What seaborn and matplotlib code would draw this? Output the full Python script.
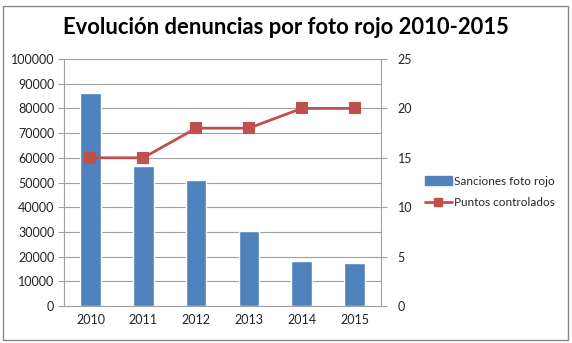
import matplotlib
matplotlib.use("Agg")
import matplotlib.pyplot as plt
import seaborn as sns
import pandas as pd
from matplotlib.patches import Rectangle
from matplotlib.lines import Line2D
from matplotlib.patches import Patch

years = ["2010", "2011", "2012", "2013", "2014", "2015"]
sanciones = [86100, 56800, 51000, 30500, 18300, 17400]
puntos = [15, 15, 18, 18, 20, 20]
left_ticks = [0, 10000, 20000, 30000, 40000, 50000, 60000, 70000, 80000, 90000, 100000]
right_ticks = [0, 5, 10, 15, 20, 25]

sns.set_theme(style="white")
plt.rcParams['font.family'] = ['Lato', 'DejaVu Sans']

df = pd.DataFrame({"year": years, "sanciones": sanciones, "puntos": puntos})

fig = plt.figure(figsize=(5.72, 3.43), dpi=100)
ax = fig.add_axes([64/572, 1-306/343, (381-64)/572, (306-59)/343])

blue = "#4F81BD"
red = "#C0504D"
grid = "#A0A0A0"

sns.barplot(data=df, x="year", y="sanciones", color=blue, saturation=1,
            width=0.39, ax=ax, zorder=2)
ax.set_ylim(0, 100000)
ax.set_yticks(left_ticks)
ax.set_yticklabels([str(t) for t in left_ticks], fontsize=9, color="#222222")
ax.set_xlim(-0.5, 5.5)
ax.set_xlabel("")
ax.set_ylabel("")
ax.tick_params(axis="x", labelsize=9, colors="#222222", length=0, pad=6)
ax.tick_params(axis="y", length=4, width=0.8, color=grid, pad=3)
ax.yaxis.grid(True, color=grid, linewidth=0.8)
ax.set_axisbelow(True)
for s in ["top", "right"]:
    ax.spines[s].set_visible(False)
for s in ["left", "bottom"]:
    ax.spines[s].set_color(grid)
    ax.spines[s].set_linewidth(0.8)

ax2 = ax.twinx()
sns.pointplot(data=df, x="year", y="puntos", color=red, markers="s",
              markersize=7, linewidth=2, ax=ax2)
ax2.set_ylim(0, 25)
ax2.set_xlim(-0.5, 5.5)
ax2.set_yticks(right_ticks)
ax2.set_yticklabels([str(t) for t in right_ticks], fontsize=9, color="#222222")
ax2.set_ylabel("")
ax2.set_xlabel("")
ax2.tick_params(axis="y", length=4, width=0.8, color=grid, pad=8, right=True)
for s in ["top", "left", "bottom"]:
    ax2.spines[s].set_visible(False)
ax2.spines["right"].set_color(grid)
ax2.spines["right"].set_linewidth(0.8)
ax2.grid(False)

fig.text(286/572, 1-27/343, "Evolución denuncias por foto rojo 2010-2015",
         ha="center", va="center", fontsize=15.8, fontweight="bold", color="black")

handles = [Patch(facecolor=blue, edgecolor=blue),
           Line2D([0], [0], color=red, lw=2, marker="s", markersize=6)]
fig.legend(handles, ["Sanciones foto rojo", "Puntos controlados"],
           loc="center left", bbox_to_anchor=(414/572, 1-192/343),
           frameon=False, fontsize=8.5, handlelength=2.3, handletextpad=0.15,
           labelspacing=0.9)

fig.patches.append(Rectangle((3/572, 3/343), 565/572, 334/343,
                             transform=fig.transFigure, fill=False,
                             edgecolor="#888888", linewidth=1))

fig.savefig("out.png", dpi=100, facecolor="white")
